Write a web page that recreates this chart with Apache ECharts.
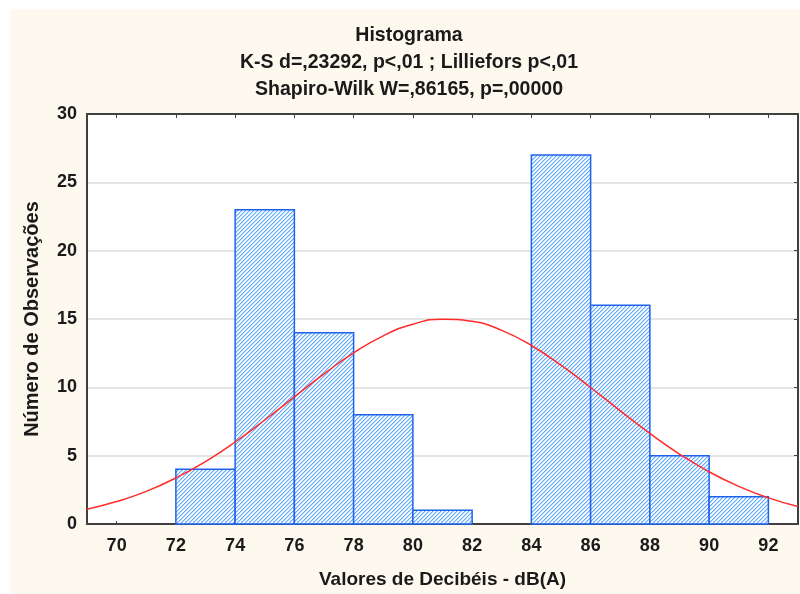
<!DOCTYPE html>
<html>
<head>
<meta charset="utf-8">
<script src="https://cdn.jsdelivr.net/npm/echarts@6/dist/echarts.min.js"></script>
<style>html,body{margin:0;padding:0;background:#fff}#c{width:800px;height:594px}</style>
</head>
<body>
<div id="c"></div>
<script>
// Histogram bins (lower edge, upper edge) and counts
const binLow  = [72, 74, 76, 78, 80, 82, 84, 86, 88, 90];
const binHigh = [74, 76, 78, 80, 82, 84, 86, 88, 90, 92];
const counts  = [4, 23, 14, 8, 1, 0, 27, 16, 5, 2];
// Fitted normal curve
const curveX = [69,70,71,72,73,74,75,76,77,78,79,80,81,82,83,84,85,86,87,88,89,90,91,92,93];
const curveY = [1.08,1.64,2.39,3.37,4.57,6.0,7.61,9.3,10.98,12.52,13.77,14.62,14.99,14.83,14.17,13.06,11.62,9.99,8.28,6.63,5.12,3.82,2.75,1.91,1.28];
const xTickLabels = [70,72,74,76,78,80,82,84,86,88,90,92];
const yTickLabels = [0,5,10,15,20,25,30];
const titleLines = ['Histograma', 'K-S d=,23292, p<,01 ; Lilliefors p<,01', 'Shapiro-Wilk W=,86165, p=,00000'];

function hatch() {
  const c = document.createElement('canvas');
  c.width = 8; c.height = 8;
  const ctx = c.getContext('2d');
  ctx.fillStyle = '#ffffff';
  ctx.fillRect(0, 0, 8, 8);
  for (let y = 0; y < 8; y++) for (let x = 0; x < 8; x++) {
    const k = (x + y) % 4;
    if (k === 3) { ctx.fillStyle = '#62aaff'; ctx.fillRect(x, y, 1, 1); }
    else if (k === 0) { ctx.fillStyle = '#b8daff'; ctx.fillRect(x, y, 1, 1); }
    else if (k === 2) { ctx.fillStyle = '#eef6ff'; ctx.fillRect(x, y, 1, 1); }
  }
  return c;
}
const pattern = { image: hatch(), repeat: 'repeat' };

const barData = binLow.map((lo, i) => [lo, binHigh[i], counts[i]]).filter(d => d[2] > 0);
const font = 'Liberation Sans';
const axisCol = '#404040';
const txtCol = '#1a1a1a';
const titleY = [35, 62, 89];

const chart = echarts.init(document.getElementById('c'), null, { renderer: 'canvas' });
chart.setOption({
  animation: false,
  backgroundColor: '#ffffff',
  graphic: [
    { type: 'rect', z: -10, shape: { x: 10, y: 9, width: 790, height: 585 }, style: { fill: '#fef9ee' } }
  ].concat(titleLines.map((t, i) => ({
    type: 'text', x: 409, y: titleY[i], scaleX: 0.93,
    style: { text: t, fontFamily: font, fontWeight: 'bold', fontSize: 21, fill: txtCol, align: 'center', verticalAlign: 'middle' }
  }))),
  grid: { left: 87, top: 114, right: 2, bottom: 69, show: true, backgroundColor: '#ffffff', borderWidth: 0 },
  xAxis: [{
    type: 'value', min: 69, max: 93, position: 'bottom',
    name: 'Valores de Decibéis - dB(A)', nameLocation: 'middle', nameGap: 46,
    nameTextStyle: { fontFamily: font, fontWeight: 'bold', fontSize: 19, color: txtCol },
    axisLine: { show: true, onZero: false, lineStyle: { color: axisCol, width: 2 } },
    axisTick: { show: true, inside: true, length: 3, customValues: xTickLabels, lineStyle: { color: axisCol } },
    axisLabel: { customValues: xTickLabels, fontFamily: font, fontWeight: 'bold', fontSize: 18, color: txtCol, margin: 13 },
    splitLine: { show: false }
  }, {
    type: 'value', min: 69, max: 93, position: 'top',
    axisLine: { show: true, onZero: false, lineStyle: { color: axisCol, width: 2 } },
    axisTick: { show: true, inside: true, length: 4, customValues: xTickLabels, lineStyle: { color: axisCol } },
    axisLabel: { show: false }, splitLine: { show: false }
  }],
  yAxis: [{
    type: 'value', min: 0, max: 30, interval: 5, position: 'left',
    name: 'Número de Observações', nameLocation: 'middle', nameGap: 45, nameRotate: 90,
    nameTextStyle: { fontFamily: font, fontWeight: 'bold', fontSize: 20, color: txtCol },
    axisLine: { show: true, onZero: false, lineStyle: { color: axisCol, width: 2 } },
    axisTick: { show: false },
    axisLabel: { fontFamily: font, fontWeight: 'bold', fontSize: 18, color: txtCol, margin: 10 },
    splitLine: { show: true, lineStyle: { color: '#dddddd', width: 1.5 } }
  }, {
    type: 'value', min: 0, max: 30, interval: 5, position: 'right',
    axisLine: { show: true, onZero: false, lineStyle: { color: axisCol, width: 2 } },
    axisTick: { show: true, inside: true, length: 4, lineStyle: { color: axisCol } },
    axisLabel: { show: false }, splitLine: { show: false }
  }],
  series: [{
    type: 'custom', xAxisIndex: 0, yAxisIndex: 0, z: 2,
    data: barData,
    encode: { x: [0, 1], y: 2 },
    renderItem: function (params, api) {
      const p1 = api.coord([api.value(0), api.value(2)]);
      const p2 = api.coord([api.value(1), 0]);
      return {
        type: 'rect',
        shape: { x: p1[0], y: p1[1], width: p2[0] - p1[0], height: p2[1] - p1[1] },
        style: { fill: pattern, stroke: '#1f62ea', lineWidth: 1.5 }
      };
    }
  }, {
    type: 'line', xAxisIndex: 0, yAxisIndex: 0, z: 3,
    data: curveX.map((x, i) => [x, curveY[i]]),
    smooth: true, showSymbol: false,
    lineStyle: { color: '#ff2a2a', width: 1.5 }
  }]
});
</script>
</body>
</html>
